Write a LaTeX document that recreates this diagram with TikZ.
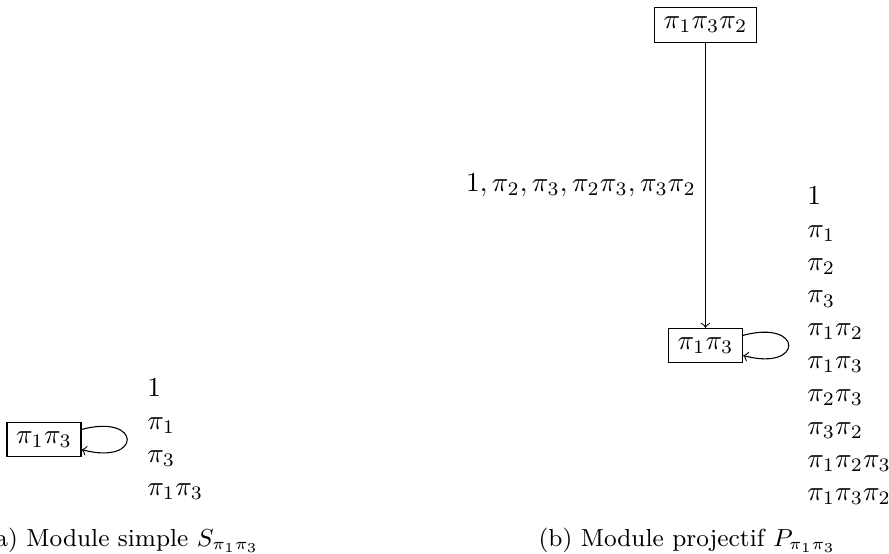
\documentclass[tikz,border=0pt]{standalone}
\usetikzlibrary{positioning}

\begin{document}
\begin{tikzpicture}[
    >=to,
    module/.style={
        rectangle,
        draw
    },
    basis/.style={
        align=left
    },
    caption/.style={
        font=\small,
        anchor=base
    }
]
    \useasboundingbox (0,0) rectangle (11.41,-7.11);

    % (a) Simple module
    \node[module] (simA) at (0.565,-5.641) {$\pi_1\pi_3$};
    \node[basis, right=0.72cm of simA] (basA) {$1$\\$\pi_1$\\$\pi_3$\\$\pi_1\pi_3$};
    \draw[->] (simA) to[loop right] (simA);

    \node[caption] (capA) at (1.57,-7.02) {(a) Module simple $S_{\pi_1\pi_3}$};

    % (b) Projective module
    \node[module] (topB) at (9.055,-0.321) {$\pi_1\pi_3\pi_2$};
    \node[module, below=3.66cm of topB] (simB) {$\pi_1\pi_3$};
    \node[basis, right=0.70cm of simB] (basB) {$1$\\$\pi_1$\\$\pi_2$\\$\pi_3$\\$\pi_1\pi_2$\\$\pi_1\pi_3$\\$\pi_2\pi_3$\\$\pi_3\pi_2$\\$\pi_1\pi_2\pi_3$\\$\pi_1\pi_3\pi_2$};

    \draw[->] (topB) -- node[midway, left] {$1, \pi_2, \pi_3, \pi_2\pi_3, \pi_3\pi_2$} (simB);
    \draw[->] (simB) to[loop right] (simB);

    \node[caption] (capB) at (8.82,-7.02) {(b) Module projectif $P_{\pi_1\pi_3}$};
\end{tikzpicture}
\end{document}
